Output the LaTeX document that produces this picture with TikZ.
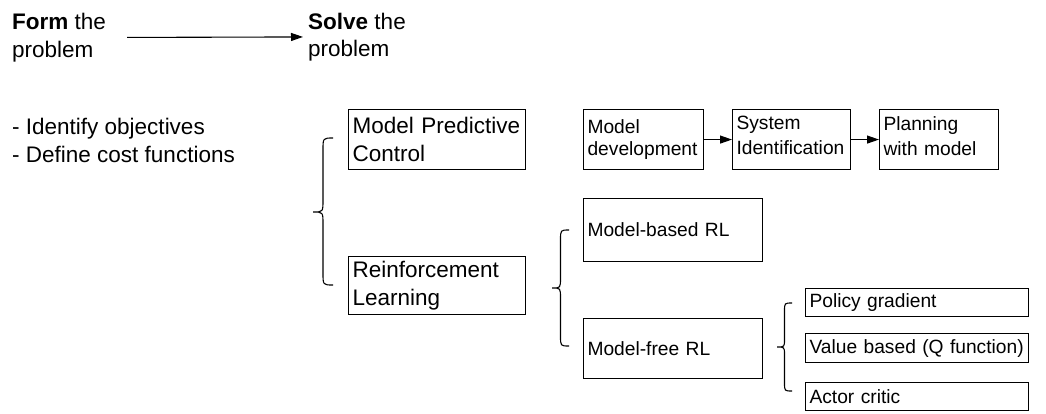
\documentclass[tikz,border=0pt]{standalone}
\usepackage{fontspec}
\setmainfont{Liberation Sans}
\usetikzlibrary{arrows.meta}
\hyphenpenalty=10000
\exhyphenpenalty=10000
\newcommand\mybrace[6]{% xl xr yt ym yb r
  \pgfmathsetmacro\xm{(#1+#2)/2}%
  \draw[bracestyle] (#2,#3) .. controls (\xm,#3) .. (\xm,#3+#6) -- (\xm,#4-#6)
    .. controls (\xm,#4) .. (#1,#4) .. controls (\xm,#4) .. (\xm,#4+#6)
    -- (\xm,#5-#6) .. controls (\xm,#5) .. (#2,#5);}
\begin{document}
\begin{tikzpicture}[x=1pt,y=-1pt,
  bigtext/.style={font=\fontsize{22.5}{27.5}\selectfont, inner sep=0pt, align=left, anchor=north west},
  bigbox/.style={draw, line width=1.1pt, anchor=north west, inner xsep=4pt, inner ysep=0pt,
    font=\fontsize{22.5}{27.5}\selectfont, align=left},
  smallbox/.style={draw, line width=1.1pt, anchor=north west, inner xsep=4pt, inner ysep=0pt,
    font=\fontsize{19.2}{22.5}\selectfont, align=left},
  arr/.style={line width=1.1pt, -{Triangle[length=12pt,width=8pt]}},
  bracestyle/.style={line width=1.1pt}
]
\useasboundingbox (0,0) rectangle (1046,413);
% header
\node[bigtext] (form) at (12,13) {\textbf{Form} the\\problem};
\node[bigtext] (solve) at (308,12.5) {\textbf{Solve} the\\problem};
\draw[arr] ([xshift=21pt]form.east) -- ([xshift=-5pt]solve.west);
% objectives
\node[bigtext] (obj) at (12,118) {- Identify objectives\\- Define cost functions};
% main boxes
\node[bigbox, text width=169pt, minimum height=60pt] (mpc) at (348,109) {Model Predictive\\Control};
\node[bigbox, text width=169pt, minimum height=58pt] (rl) at (348,256) {Reinforcement\\Learning};
% MPC chain
\node[smallbox, text width=112pt, minimum height=60pt] (md) at (583,109) {Model\\development};
\node[smallbox, text width=110pt, minimum height=60pt, text depth=33pt, font=\fontsize{19.2}{25}\selectfont] (si) at (732,109) {System\\Identification};
\node[smallbox, text width=111pt, minimum height=60pt, text depth=33pt, font=\fontsize{19.2}{25}\selectfont] (pwm) at (879,109) {Planning\\with model};
\draw[arr] (md) -- (si);
\draw[arr] (si) -- (pwm);
% RL branches
\node[smallbox, text width=171pt, minimum height=63pt] (mbrl) at (583,198) {Model-based RL};
\node[smallbox, text width=171pt, minimum height=60pt] (mfrl) at (583,318) {Model-free RL};
% model-free branches
\node[smallbox, text width=215pt, minimum height=28pt] (pg) at (805,288) {Policy gradient};
\node[smallbox, text width=215pt, minimum height=29pt] (vb) at (805,333) {Value based (Q function)};
\node[smallbox, text width=215pt, minimum height=28pt] (ac) at (805,382) {Actor critic};
% braces
\mybrace{313}{333}{138}{212}{285}{12}
\mybrace{552}{569}{230}{288}{346}{10}
\mybrace{777}{792}{303}{347}{391}{8}
\end{tikzpicture}
\end{document}
